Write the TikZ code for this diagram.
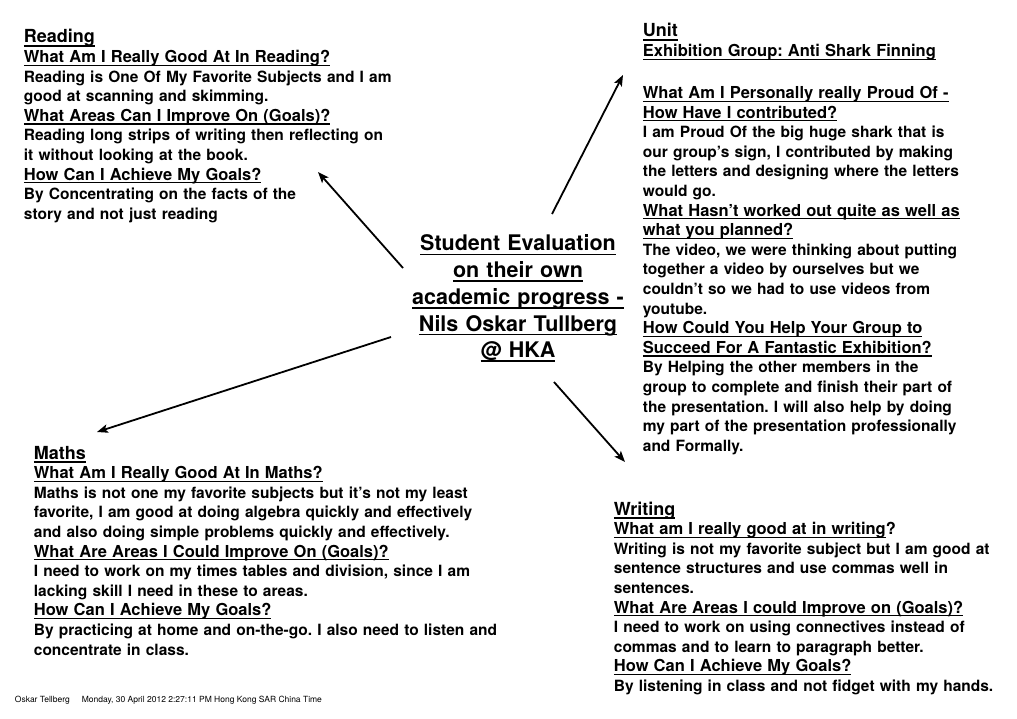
\documentclass[tikz,border=0pt]{standalone}
\usepackage{fontspec}
\setmainfont{TeX Gyre Heros}
\usetikzlibrary{arrows.meta}
\frenchspacing
\newsavebox\ulbox
\newcommand\ul[1]{\leavevmode\sbox\ulbox{#1}\rlap{\rule[-0.2em]{\wd\ulbox}{0.075em}}\usebox\ulbox}
\newcommand\hd[1]{{\fontsize{16.5}{19.6}\selectfont\ul{#1}}}
\newcommand\subj[1]{{\fontsize{18}{19.6}\selectfont\ul{#1}}}

\begin{document}
\begin{tikzpicture}[x=1pt,y=-1pt,>={Stealth[length=11pt,width=8.5pt,inset=2.5pt]},line width=1.8pt]
  \tikzstyle{block}=[anchor=base west,inner sep=0pt,align=left,font=\bfseries\fontsize{15.5}{19.6}\selectfont]
  \tikzstyle{title}=[anchor=base,inner sep=0pt,align=center,text width=240pt,font=\bfseries\fontsize{21.5}{26.7}\selectfont]
\useasboundingbox (0,0) rectangle (1017,719);

\node[title] (eval) at (518,251) {\ul{Student Evaluation}\\ \ul{on their own}\\ \ul{academic progress -}\\ \ul{Nils Oskar Tullberg}\\ \ul{@ HKA}};

\node[block,text width=400pt] (reading) at (23,43) {\subj{Reading}\\
\hd{What Am I Really Good At In Reading?}\\
Reading is One Of My Favorite Subjects and I am\\
good at scanning and skimming.\\
\hd{What Areas Can I Improve On (Goals)?}\\
Reading long strips of writing then reflecting on\\
it without looking at the book.\\
\hd{How Can I Achieve My Goals?}\\
By Concentrating on the facts of the\\
story and not just reading};

\node[block,text width=370pt] (unit) at (642,37) {\subj{Unit}\\
\hd{Exhibition Group: Anti Shark Finning}\\[22.4pt]
\hd{What Am I Personally really Proud Of -}\\
\hd{How Have I contributed?}\\
I am Proud Of the big huge shark that is\\
our group’s sign, I contributed by making\\
the letters and designing where the letters\\
would go.\\
\hd{What Hasn’t worked out quite as well as}\\
\hd{what you planned?}\\
The video, we were thinking about putting\\
together a video by ourselves but we\\
couldn’t so we had to use videos from\\
youtube.\\
\hd{How Could You Help Your Group to}\\
\hd{Succeed For A Fantastic Exhibition?}\\
By Helping the other members in the\\
group to complete and finish their part of\\
the presentation. I will also help by doing\\
my part of the presentation professionally\\
and Formally.};

\node[block,text width=480pt] (maths) at (33,459) {\subj{Maths}\\
\hd{What Am I Really Good At In Maths?}\\
Maths is not one my favorite subjects but it’s not my least\\
favorite, I am good at doing algebra quickly and effectively\\
and also doing simple problems quickly and effectively.\\
\hd{What Are Areas I Could Improve On (Goals)?}\\
I need to work on my times tables and division, since I am\\
lacking skill I need in these to areas.\\
\hd{How Can I Achieve My Goals?}\\
By practicing at home and on-the-go. I also need to listen and\\
concentrate in class.};

\node[block,text width=400pt] (writing) at (613,515) {\subj{Writing}\\
\hd{What am I really good at in writing}{\fontsize{16.5}{19.6}\selectfont ?}\\
Writing is not my favorite subject but I am good at\\
sentence structures and use commas well in\\
sentences.\\
\hd{What Are Areas I could Improve on (Goals)?}\\
I need to work on using connectives instead of\\
commas and to learn to paragraph better.\\
\hd{How Can I Achieve My Goals?}\\
By listening in class and not fidget with my hands.};

\node[anchor=base west,inner sep=0pt,font=\fontsize{8.5}{10}\selectfont] (stamp) at (14,702) {Oskar Tellberg\hspace{12pt}Monday, 30 April 2012 2:27:11 PM Hong Kong SAR China Time};

% arrow ends
\coordinate (rs) at (403,268); \coordinate (rt) at (318,172);
\coordinate (us) at (552,214); \coordinate (ut) at (623,75);
\coordinate (ms) at (391,337); \coordinate (mt) at (97,432);
\coordinate (ws) at (554,382); \coordinate (wt) at (625,462);

\draw[->] (rs) -- (rt);
\draw[->] (us) -- (ut);
\draw[->] (ms) -- (mt);
\draw[->] (ws) -- (wt);
\end{tikzpicture}
\end{document}
